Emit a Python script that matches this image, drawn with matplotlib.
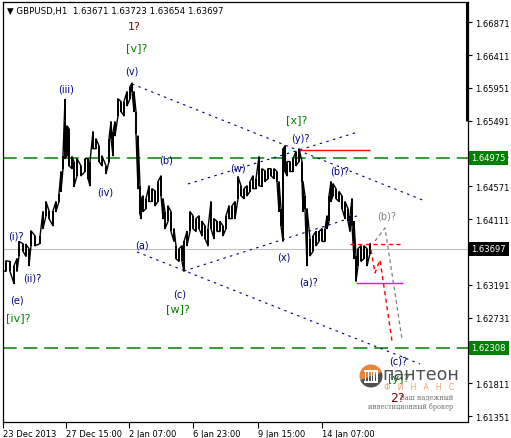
import numpy as np
import matplotlib
matplotlib.use("Agg")
import matplotlib.pyplot as plt
from matplotlib.patches import Wedge, Rectangle

# H1 bars (bar index, high, low)
bar_x = [3, 6, 10, 14, 17, 19, 23, 26, 29, 31, 35, 40, 43, 46, 49, 53, 56, 59, 61, 63,
         65, 67, 69, 72, 74, 77, 81, 85, 88, 90, 93, 96, 99, 102, 106, 109, 111, 113, 115, 118,
         121, 124, 127, 130, 132, 134, 136, 138, 140, 141, 143, 146, 149, 152, 155, 158, 161, 163, 165, 168,
         171, 174, 176, 179, 182, 184, 187, 190, 193, 196, 199, 202, 205, 208, 211, 214, 217, 220, 223, 226,
         229, 232, 235, 238, 241, 244, 247, 250, 253, 256, 259, 262, 265, 268, 271, 274, 277, 279, 281, 283,
         285, 287, 290, 293, 296, 299, 302, 303, 305, 307, 310, 313, 316, 319, 322, 325, 327, 329, 331, 333,
         336, 339, 342, 345, 348, 350, 352, 354, 356, 358, 361, 364, 367, 370]
bar_high = [1.6359, 1.6353, 1.6352, 1.6346, 1.6356, 1.6380, 1.6377, 1.6376, 1.6370, 1.6395,
            1.6388, 1.6387, 1.6422, 1.6436, 1.6423, 1.6423, 1.6436, 1.6447, 1.6478, 1.6500,
            1.6579, 1.6542, 1.6538, 1.6499, 1.6492, 1.6496, 1.6486, 1.6496, 1.6496, 1.6492,
            1.6534, 1.6524, 1.6514, 1.6500, 1.6486, 1.6524, 1.6548, 1.6534, 1.6548, 1.6580,
            1.6576, 1.6576, 1.6590, 1.6597, 1.6602, 1.6590, 1.6562, 1.6528, 1.6458, 1.6440,
            1.6444, 1.6440, 1.6458, 1.6454, 1.6451, 1.6464, 1.6472, 1.6440, 1.6422, 1.6430,
            1.6422, 1.6398, 1.6374, 1.6370, 1.6374, 1.6380, 1.6394, 1.6422, 1.6416, 1.6412,
            1.6416, 1.6408, 1.6402, 1.6398, 1.6436, 1.6412, 1.6408, 1.6408, 1.6402, 1.6416,
            1.6430, 1.6430, 1.6436, 1.6471, 1.6458, 1.6454, 1.6458, 1.6464, 1.6472, 1.6468,
            1.6499, 1.6482, 1.6479, 1.6482, 1.6482, 1.6482, 1.6478, 1.6464, 1.6426, 1.6510,
            1.6514, 1.6492, 1.6492, 1.6496, 1.6506, 1.6510, 1.6492, 1.6464, 1.6444, 1.6426,
            1.6384, 1.6388, 1.6394, 1.6394, 1.6398, 1.6398, 1.6416, 1.6444, 1.6464, 1.6461,
            1.6454, 1.6450, 1.6444, 1.6436, 1.6426, 1.6416, 1.6440, 1.6408, 1.6360, 1.6370,
            1.6374, 1.6374, 1.6370, 1.6377]
bar_low = [1.6339, 1.6338, 1.6338, 1.6321, 1.6338, 1.6360, 1.6366, 1.6359, 1.6346, 1.6374,
           1.6374, 1.6377, 1.6398, 1.6416, 1.6412, 1.6402, 1.6422, 1.6436, 1.6450, 1.6482,
           1.6496, 1.6500, 1.6486, 1.6482, 1.6457, 1.6472, 1.6472, 1.6478, 1.6468, 1.6458,
           1.6510, 1.6510, 1.6492, 1.6486, 1.6475, 1.6492, 1.6524, 1.6500, 1.6528, 1.6556,
           1.6562, 1.6556, 1.6570, 1.6580, 1.6590, 1.6562, 1.6531, 1.6454, 1.6419, 1.6412,
           1.6422, 1.6426, 1.6436, 1.6436, 1.6430, 1.6436, 1.6444, 1.6412, 1.6398, 1.6408,
           1.6394, 1.6380, 1.6356, 1.6352, 1.6352, 1.6338, 1.6374, 1.6394, 1.6398, 1.6394,
           1.6398, 1.6388, 1.6384, 1.6374, 1.6398, 1.6384, 1.6394, 1.6394, 1.6388, 1.6398,
           1.6412, 1.6412, 1.6412, 1.6440, 1.6444, 1.6440, 1.6444, 1.6450, 1.6454, 1.6454,
           1.6458, 1.6457, 1.6464, 1.6468, 1.6472, 1.6468, 1.6464, 1.6422, 1.6402, 1.6380,
           1.6478, 1.6472, 1.6478, 1.6478, 1.6486, 1.6492, 1.6464, 1.6422, 1.6426, 1.6346,
           1.6360, 1.6366, 1.6374, 1.6380, 1.6380, 1.6380, 1.6398, 1.6408, 1.6436, 1.6444,
           1.6440, 1.6436, 1.6426, 1.6412, 1.6408, 1.6394, 1.6402, 1.6356, 1.6324, 1.6346,
           1.6352, 1.6356, 1.6346, 1.6363]

title = "\u25bc GBPUSD,H1  1.63671 1.63723 1.63654 1.63697"
last_price = 1.63697
level_hi = 1.64975
level_lo = 1.62308
ytick_vals = [1.61351 + 0.0046 * k for k in range(13)]
xtick_bars = [3, 66, 129, 193, 258, 322]
xtick_labels = ["23 Dec 2013", "27 Dec 15:00", "2 Jan 07:00", "6 Jan 23:00", "9 Jan 15:00", "14 Jan 07:00"]

# dotted trend/channel lines: (x0, y0, x1, y1)
trend_lines = [(132, 1.66007, 425, 1.64367),
               (137, 1.63653, 420, 1.62084),
               (184, 1.63387, 360, 1.64171),
               (188, 1.64606, 358, 1.65334)]
red_proj_x = [371, 375, 380, 392]
red_proj_y = [1.63681, 1.63359, 1.63541, 1.62406]
gray_proj_x = [375, 385, 402]
gray_proj_y = [1.63807, 1.63989, 1.62434]

# wave labels: text, x, price, colour, size
navy = "#000080"
green = "#008000"
maroon = "#800000"
wave_labels = [
    ("(iii)", 66, 1.65937, navy, 7), ("(v)", 132, 1.66189, navy, 7),
    ("[v]?", 137, 1.66525, green, 8), ("1?", 134, 1.66819, maroon, 8),
    ("(i)?", 16, 1.63877, navy, 7), ("(ii)?", 32, 1.63289, navy, 7),
    ("(e)", 17, 1.62994, navy, 7), ("[iv]?", 18, 1.62742, green, 8),
    ("(iv)", 105, 1.64494, navy, 7), ("(b)", 166, 1.64942, navy, 7),
    ("(a)", 142, 1.63751, navy, 7), ("(c)", 180, 1.63078, navy, 7),
    ("[w]?", 178, 1.62868, green, 8), ("(w)", 238, 1.64830, navy, 7),
    ("(x)", 284, 1.63583, navy, 7), ("(y)?", 300, 1.65250, navy, 7),
    ("[x]?", 297, 1.65516, green, 8), ("(b)?", 340, 1.64788, navy, 7),
    ("(a)?", 309, 1.63233, navy, 7), ("(b)?", 387, 1.64157, "#808080", 7),
    ("(c)?", 398, 1.62126, navy, 7), ("[y]?", 399, 1.61888, green, 8),
    ("2?", 397, 1.61621, maroon, 9),
]

W, H = 511, 439
fig = plt.figure(figsize=(W / 100, H / 100), dpi=100)
ax = fig.add_axes([3 / W, (H - 423) / H, 465 / W, 420 / H])
ax.set_xlim(3, 468)
ax.set_ylim(1.61271, 1.67155)
ax.patch.set_alpha(0)


def px(x, y):
    return x / W, 1 - y / H


# logo behind the chart
r = 11.5
fig.patches.append(Wedge((371, H - 377), r, 20, 200, transform=None,
                         facecolor="#e8843e", edgecolor="none", zorder=0))
fig.patches.append(Wedge((371, H - 377), r, 200, 380, transform=None,
                         facecolor="#505050", edgecolor="none", zorder=0))
fig.patches.append(Rectangle((364, H - 384), 14, 2, transform=None,
                             facecolor="white", edgecolor="none", zorder=0))
fig.patches.append(Rectangle((364, H - 373), 14, 2, transform=None,
                             facecolor="white", edgecolor="none", zorder=0))
for k in range(5):
    fig.patches.append(Rectangle((365 + k * 2.8, H - 382), 1.3, 9, transform=None,
                                 facecolor="white", edgecolor="none", zorder=0))
fig.text(*px(382, 375), "пантеон", fontsize=12.5, color="#505050", family="DejaVu Sans",
         ha="left", va="center", zorder=0)
fig.text(*px(384, 388), "Ф   И   Н   А   Н   С", fontsize=5.5, color="#f2a070",
         ha="left", va="center", zorder=0)
fig.text(*px(453, 398), "Ваш надежный", fontsize=4.7, color="#707070", family="DejaVu Serif",
         ha="right", va="center", zorder=0)
fig.text(*px(453, 407), "инвестиционный брокер", fontsize=4.7, color="#707070",
         family="DejaVu Serif", ha="right", va="center", zorder=0)

# horizontal levels
ax.axhline(last_price, color="#c0c0c0", lw=0.8, zorder=1)
for lv in (level_hi, level_lo):
    ax.axhline(lv, color=green, lw=1.1, dashes=(9, 4.5), zorder=2)

# bars
xs = np.repeat(np.array(bar_x, dtype=float), 2)
ys = []
for i, (h, l) in enumerate(zip(bar_high, bar_low)):
    ys += [h, l] if i % 2 == 0 else [l, h]
ax.plot(xs, ys, color="black", lw=1.0, zorder=3)
ax.vlines(bar_x, bar_low, bar_high, color="black", lw=1.4, zorder=3)

# trend lines
for x0, y0, x1, y1 in trend_lines:
    ax.plot([x0, x1], [y0, y1], color=navy, lw=0.8, dashes=(2.2, 4), zorder=4)

ax.hlines(1.65082, 299, 370, color="red", lw=1.0, zorder=4)
ax.hlines(1.63219, 356, 403, color="magenta", lw=1.0, zorder=4)
ax.hlines(1.63765, 350, 402, color="red", lw=1.0, linestyles=(0, (3, 2.5)), zorder=4)
ax.plot(red_proj_x, red_proj_y, color="red", lw=1.0, dashes=(3, 2.5), zorder=4)
ax.plot(gray_proj_x, gray_proj_y, color="#808080", lw=0.9, dashes=(3, 2.5), zorder=4)

# marker bar at right edge
ax.plot([467, 467], [1.65491, 1.67155], color="black", lw=2.2, solid_capstyle="butt", zorder=5)

for txt, x, y, c, s in wave_labels:
    ax.text(x, y, txt, color=c, fontsize=s, ha="center", va="center", zorder=6)

# axes styling
for sp in ax.spines.values():
    sp.set_linewidth(0.9)
ax.yaxis.tick_right()
ax.set_yticks(ytick_vals)
# labels hidden behind the price boxes are left blank
ylabs = []
for v in ytick_vals:
    if abs(v - last_price) < 0.001 or abs(v - level_lo) < 0.001:
        ylabs.append("")
    else:
        ylabs.append("%.5f" % v)
ax.set_yticklabels(ylabs)
ax.set_xticks(xtick_bars)
ax.set_xticklabels(xtick_labels, ha="left")
ax.tick_params(axis="y", direction="out", length=3, width=0.8, labelsize=6, pad=2)
ax.tick_params(axis="x", direction="out", length=4, width=0.8, labelsize=6, pad=1)

# price boxes on the right scale
for val, bg in ((level_hi, green), (last_price, "black"), (level_lo, green)):
    ax.text(471.5, val, "%.5f" % val, color="white", fontsize=6, ha="left", va="center",
            bbox=dict(boxstyle="square,pad=0.3", facecolor=bg, edgecolor="none"),
            clip_on=False, zorder=10)

fig.text(7 / W, 1 - 11 / H, title, fontsize=6.2, color="black", ha="left", va="center")

fig.savefig("out.png", dpi=100)
